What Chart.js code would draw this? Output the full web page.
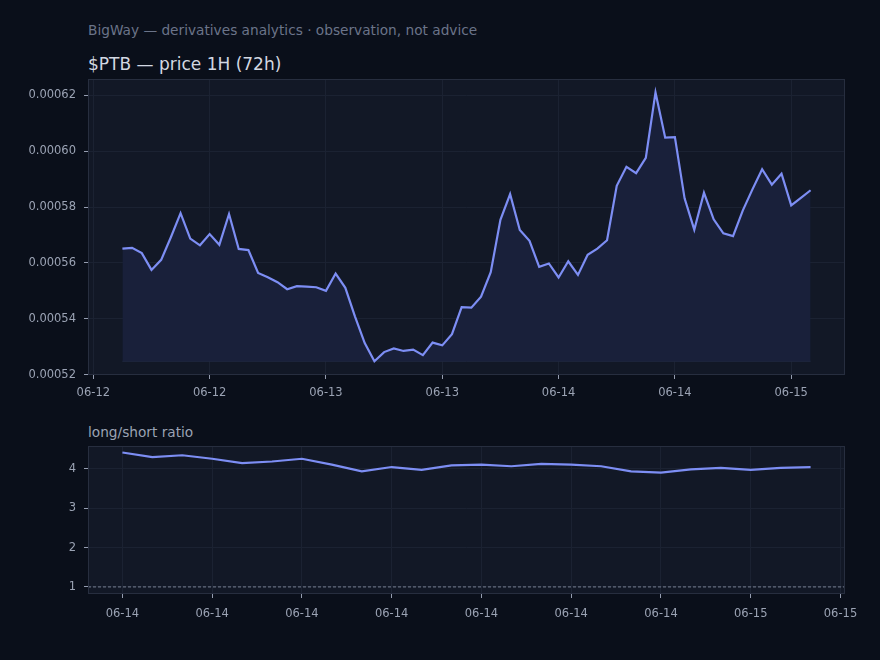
<!DOCTYPE html>
<html>
<head>
<meta charset="utf-8">
<script src="https://cdn.jsdelivr.net/npm/chart.js@4/dist/chart.umd.min.js"></script>
<style>
  html, body { margin:0; padding:0; background:#0a0f1a; }
  body { width:880px; height:660px; position:relative; overflow:hidden; font-family:"DejaVu Sans", sans-serif; }
  .txt { position:absolute; white-space:nowrap; line-height:1; }
  #sub { left:88px; top:24px; font-size:13.7px; color:#6b7489; }
  #ttl { left:88px; top:56px; font-size:17px; color:#d3d8e2; }
  #ls  { left:88px; top:426px; font-size:13.7px; color:#9ba3b4; }
  #c1wrap { position:absolute; left:0; top:70px; width:880px; height:340px; }
  #c2wrap { position:absolute; left:0; top:436px; width:880px; height:200px; }
</style>
</head>
<body>
<div class="txt" id="sub">BigWay — derivatives analytics · observation, not advice</div>
<div class="txt" id="ttl">$PTB — price 1H (72h)</div>
<div class="txt" id="ls">long/short ratio</div>
<div id="c1wrap"><canvas id="c1" width="880" height="340"></canvas></div>
<div id="c2wrap"><canvas id="c2" width="880" height="200"></canvas></div>
<script>
// ---------- data ----------
// price: hourly closes, first point at hour 3 after 06-12 00:00
const priceStartHour = 3;
const price = [
  0.0005651, 0.0005654, 0.0005635, 0.0005575, 0.0005611, 0.0005692, 0.0005778, 0.0005687,
  0.0005663, 0.0005703, 0.0005665, 0.0005775, 0.0005650, 0.0005646, 0.0005564, 0.0005549,
  0.0005531, 0.0005506, 0.0005517, 0.0005515, 0.0005513, 0.0005500, 0.0005562, 0.0005511,
  0.0005408, 0.0005313, 0.0005248, 0.0005281, 0.0005294, 0.0005285, 0.0005290, 0.0005270,
  0.0005315, 0.0005305, 0.0005345, 0.0005442, 0.0005440, 0.0005479, 0.0005567, 0.0005754,
  0.0005846, 0.0005718, 0.0005679, 0.0005586, 0.0005598, 0.0005548, 0.0005606, 0.0005557,
  0.0005629, 0.0005651, 0.0005681, 0.0005876, 0.0005944, 0.0005921, 0.0005976, 0.0006210,
  0.0006048, 0.0006050, 0.0005831, 0.0005719, 0.0005851, 0.0005756, 0.0005706, 0.0005696,
  0.0005787, 0.0005863, 0.0005935, 0.0005880, 0.0005919, 0.0005806, 0.0005833, 0.0005860
];
const priceTickHours  = [0, 12, 24, 36, 48, 60, 72];
const priceTickLabels = ['06-12', '06-12', '06-13', '06-13', '06-14', '06-14', '06-15'];
const priceYTicks = [0.00052, 0.00054, 0.00056, 0.00058, 0.00060, 0.00062];

// long/short ratio: hourly, first point at 06-14 03:00
const ratio = [
  4.42, 4.30, 4.35, 4.26, 4.15, 4.19, 4.26, 4.11,
  3.94, 4.05, 3.98, 4.09, 4.11, 4.07, 4.13, 4.11,
  4.07, 3.94, 3.91, 3.99, 4.03, 3.98, 4.03, 4.05
];
const ratioTickHours  = [0, 3, 6, 9, 12, 15, 18, 21, 24];
const ratioTickLabels = ['06-14', '06-14', '06-14', '06-14', '06-14', '06-14', '06-14', '06-15', '06-15'];
const ratioYTicks = [1, 2, 3, 4];
const ratioRefLevel = 1;

// ---------- style ----------
const LINE = '#7d8ef4';
const FILL = '#19203a';
const PLOT_BG = '#121826';
const SPINE = '#272e3f';
const GRID = '#1b2232';
const TICK_COL = '#9ba3b4';
const TICK_MARK = '#959db0';
const FONT = { family: '"DejaVu Sans", sans-serif', size: 11.5 };

const plotFrame = {
  id: 'plotFrame',
  beforeDraw(chart) {
    const a = chart.chartArea, ctx = chart.ctx;
    ctx.save();
    ctx.fillStyle = PLOT_BG;
    ctx.fillRect(a.left, a.top, a.right - a.left, a.bottom - a.top);
    ctx.restore();
  },
  afterDraw(chart) {
    const a = chart.chartArea, ctx = chart.ctx;
    ctx.save();
    ctx.strokeStyle = SPINE;
    ctx.lineWidth = 1;
    ctx.strokeRect(a.left + 0.5, a.top + 0.5, a.right - a.left - 1, a.bottom - a.top - 1);
    ctx.restore();
  }
};

function fixedTicks(values) {
  return function (scale) { scale.ticks = values.map(v => ({ value: v })); };
}

function makeScales(o) {
  return {
    x: {
      type: 'linear', min: o.xmin, max: o.xmax,
      afterBuildTicks: fixedTicks(o.xticks),
      afterFit(s) { s.height = o.xh; s.paddingLeft = 0; s.paddingRight = 0; },
      grid: { color: GRID, lineWidth: 1, drawTicks: true, tickLength: 4, tickColor: TICK_MARK, tickWidth: 1 },
      border: { display: false },
      ticks: {
        color: TICK_COL, font: FONT, padding: o.xpad, maxRotation: 0, autoSkip: false,
        callback: (v) => o.xlabels[o.xticks.indexOf(v)]
      }
    },
    y: {
      type: 'linear', min: o.ymin, max: o.ymax,
      afterBuildTicks: fixedTicks(o.yticks),
      afterFit(s) { s.width = 88; s.paddingTop = 0; s.paddingBottom = 0; },
      grid: { color: GRID, lineWidth: 1, drawTicks: true, tickLength: 4, tickColor: TICK_MARK, tickWidth: 1 },
      border: { display: false },
      ticks: { color: TICK_COL, font: FONT, padding: 8, callback: o.yfmt }
    }
  };
}

// ---------- price chart ----------
const pricePts = price.map((v, i) => ({ x: priceStartHour + i, y: v }));
const priceMin = Math.min(...price);
new Chart(document.getElementById('c1'), {
  type: 'line',
  data: {
    datasets: [
      {
        data: pricePts, borderColor: LINE, borderWidth: 2.2, pointRadius: 0,
        fill: { value: priceMin }, backgroundColor: FILL, tension: 0, order: 1
      },
      {
        data: [{ x: priceStartHour, y: priceMin }, { x: priceStartHour + price.length - 1, y: priceMin }],
        borderColor: '#222a42', borderWidth: 1, pointRadius: 0, fill: false, order: 2
      }
    ]
  },
  options: {
    responsive: false, animation: false, events: [],
    layout: { padding: { left: 0, right: 35, top: 9, bottom: 0 } },
    plugins: { legend: { display: false }, tooltip: { enabled: false } },
    scales: makeScales({
      xmin: -0.55, xmax: 77.55, xticks: priceTickHours, xlabels: priceTickLabels, xh: 35, xpad: 7,
      ymin: 0.0005199, ymax: 0.0006258, yticks: priceYTicks,
      yfmt: (v) => v.toFixed(5)
    })
  },
  plugins: [plotFrame]
});

// ---------- ratio chart ----------
const ratioPts = ratio.map((v, i) => ({ x: i, y: v }));
const rXmin = -1.15, rXmax = 24.15;
new Chart(document.getElementById('c2'), {
  type: 'line',
  data: {
    datasets: [
      { data: ratioPts, borderColor: LINE, borderWidth: 2.2, pointRadius: 0, fill: false, tension: 0 },
      {
        data: [{ x: rXmin, y: ratioRefLevel }, { x: rXmax, y: ratioRefLevel }],
        borderColor: '#9099aa', borderWidth: 0.8, borderDash: [3, 2], pointRadius: 0, fill: false
      }
    ]
  },
  options: {
    responsive: false, animation: false, events: [],
    layout: { padding: { left: 0, right: 35, top: 10, bottom: 0 } },
    plugins: { legend: { display: false }, tooltip: { enabled: false } },
    scales: makeScales({
      xmin: rXmin, xmax: rXmax, xticks: ratioTickHours, xlabels: ratioTickLabels, xh: 42, xpad: 9,
      ymin: 0.82, ymax: 4.585, yticks: ratioYTicks,
      yfmt: (v) => String(v)
    })
  },
  plugins: [plotFrame]
});
</script>
</body>
</html>
